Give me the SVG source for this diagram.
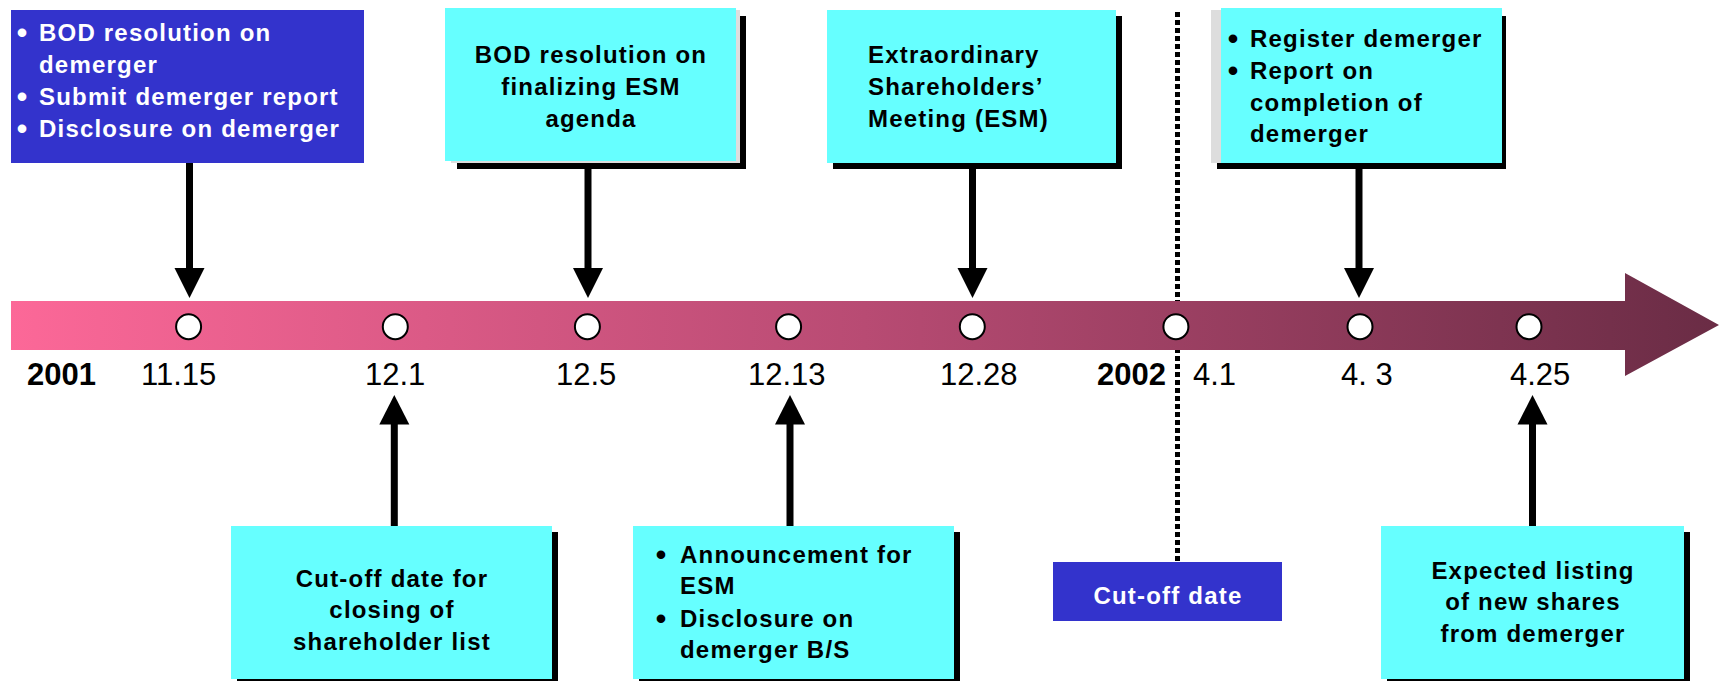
<svg xmlns="http://www.w3.org/2000/svg" width="1720" height="681" viewBox="0 0 1720 681">
  <style>
    .t { font-family: "Liberation Sans", Arial, sans-serif; font-weight: bold; font-size: 24px; letter-spacing: 1.2px; fill: #000; }
    .b { font-family: "Liberation Sans", Arial, sans-serif; font-weight: bold; font-size: 30px; text-anchor: middle; fill: #000; }
    .w { fill: #fff; }
    .c { text-anchor: middle; }
    .date { font-family: "Liberation Sans", Arial, sans-serif; font-size: 31px; fill: #000; }
    .year { font-family: "Liberation Sans", Arial, sans-serif; font-size: 31px; font-weight: bold; fill: #000; }
    .cyan { fill: #66FFFF; }
    .blue { fill: #3333CC; }
    .shadow { fill: #000; }
    .gray { fill: #DDDDDD; }
    .conn { stroke: #000; stroke-width: 7; fill: none; }
    .head { fill: #000; }
    .dot { fill: #fff; stroke: #000; stroke-width: 2; }
  </style>
  <defs>
    <linearGradient id="bar" gradientUnits="userSpaceOnUse" x1="10" y1="0" x2="1720" y2="0">
      <stop offset="0" stop-color="#FC6898"/>
      <stop offset="0.5" stop-color="#B84B73"/>
      <stop offset="1" stop-color="#6A2C45"/>
    </linearGradient>
  </defs>
  <rect width="1720" height="681" fill="#fff"/>

  <!-- dotted cut-off line -->
  <g id="cutoff-line">
    <line x1="1177.5" y1="12" x2="1177.5" y2="561" stroke="#000" stroke-width="5" stroke-dasharray="5 3"/>
  </g>

  <!-- timeline -->
  <g id="timeline">
    <polygon points="11,301 1625,301 1625,273 1719,325 1625,376 1625,350 11,350" fill="url(#bar)"/>
    <ellipse class="dot" cx="188.6" cy="326.7" rx="12.5" ry="12.5"/>
    <ellipse class="dot" cx="395.3" cy="326.7" rx="12.5" ry="12.5"/>
    <ellipse class="dot" cx="587.4" cy="326.7" rx="12.5" ry="12.5"/>
    <ellipse class="dot" cx="788.6" cy="326.7" rx="12.5" ry="12.5"/>
    <ellipse class="dot" cx="972.3" cy="326.7" rx="12.5" ry="12.5"/>
    <ellipse class="dot" cx="1175.9" cy="326.7" rx="12.5" ry="12.5"/>
    <ellipse class="dot" cx="1360" cy="326.7" rx="12.5" ry="12.5"/>
    <ellipse class="dot" cx="1529" cy="326.7" rx="12.5" ry="12.5"/>
    <text class="year" x="27" y="385">2001</text>
    <text class="date" x="141" y="385">11.15</text>
    <text class="date" x="365" y="385">12.1</text>
    <text class="date" x="556" y="385">12.5</text>
    <text class="date" x="748" y="385">12.13</text>
    <text class="date" x="940" y="385">12.28</text>
    <text class="year" x="1097" y="385">2002</text>
    <text class="date" x="1193" y="385">4.1</text>
    <text class="date" x="1341" y="385">4. 3</text>
    <text class="date" x="1510" y="385">4.25</text>
  </g>

  <!-- connectors -->
  <g id="connectors">
    <line class="conn" x1="189.5" y1="163" x2="189.5" y2="270"/>
    <polygon class="head" points="174.5,268 204.5,268 189.5,298"/>
    <line class="conn" x1="588" y1="169" x2="588" y2="270"/>
    <polygon class="head" points="573,268 603,268 588,298"/>
    <line class="conn" x1="972.5" y1="169" x2="972.5" y2="270"/>
    <polygon class="head" points="957.5,268 987.5,268 972.5,298"/>
    <line class="conn" x1="1359" y1="169" x2="1359" y2="270"/>
    <polygon class="head" points="1344,268 1374,268 1359,298"/>
    <line class="conn" x1="394.3" y1="422" x2="394.3" y2="526"/>
    <polygon class="head" points="379.3,424.5 409.3,424.5 394.3,395"/>
    <line class="conn" x1="790" y1="422" x2="790" y2="526"/>
    <polygon class="head" points="775,424.5 805,424.5 790,395"/>
    <line class="conn" x1="1532.5" y1="422" x2="1532.5" y2="526"/>
    <polygon class="head" points="1517.5,424.5 1547.5,424.5 1532.5,395"/>
  </g>

  <!-- top nodes -->
  <g id="node-1115">
    <rect class="blue" x="11" y="10" width="353" height="153"/>
    <text class="b w" x="22" y="43">•</text>
    <text class="t w" x="39" y="41">BOD resolution on</text>
    <text class="t w" x="39" y="73">demerger</text>
    <text class="b w" x="22" y="107">•</text>
    <text class="t w" x="39" y="105">Submit demerger report</text>
    <text class="b w" x="22" y="139">•</text>
    <text class="t w" x="39" y="137">Disclosure on demerger</text>
  </g>

  <g id="node-125">
    <rect class="shadow" x="457" y="16" width="289" height="153"/>
    <rect class="gray" x="451" y="10" width="289" height="153"/>
    <rect class="cyan" x="445" y="8" width="291" height="153"/>
    <text class="t c" x="591" y="63">BOD resolution on</text>
    <text class="t c" x="591" y="95">finalizing ESM</text>
    <text class="t c" x="591" y="127">agenda</text>
  </g>

  <g id="node-1228">
    <rect class="shadow" x="833" y="16" width="289" height="153"/>
    <rect class="cyan" x="827" y="10" width="289" height="153"/>
    <text class="t" x="868" y="63">Extraordinary</text>
    <text class="t" x="868" y="95">Shareholders’</text>
    <text class="t" x="868" y="127">Meeting (ESM)</text>
  </g>

  <g id="node-43">
    <rect class="shadow" x="1217" y="16" width="289" height="153"/>
    <rect class="gray" x="1211" y="10" width="20" height="153"/>
    <rect class="cyan" x="1221" y="8" width="281" height="155"/>
    <text class="b" x="1233" y="49">•</text>
    <text class="t" x="1250" y="47">Register demerger</text>
    <text class="b" x="1233" y="81">•</text>
    <text class="t" x="1250" y="79">Report on</text>
    <text class="t" x="1250" y="111">completion of</text>
    <text class="t" x="1250" y="142">demerger</text>
  </g>

  <!-- bottom nodes -->
  <g id="node-121">
    <rect class="shadow" x="237" y="532" width="321" height="153"/>
    <rect class="cyan" x="231" y="526" width="321" height="153"/>
    <text class="t c" x="392" y="587">Cut-off date for</text>
    <text class="t c" x="392" y="618">closing of</text>
    <text class="t c" x="392" y="650">shareholder list</text>
  </g>

  <g id="node-1213">
    <rect class="shadow" x="639" y="532" width="321" height="153"/>
    <rect class="cyan" x="633" y="526" width="321" height="153"/>
    <text class="b" x="661" y="565">•</text>
    <text class="t" x="680" y="563">Announcement for</text>
    <text class="t" x="680" y="594">ESM</text>
    <text class="b" x="661" y="629">•</text>
    <text class="t" x="680" y="627">Disclosure on</text>
    <text class="t" x="680" y="658">demerger B/S</text>
  </g>

  <g id="node-cutoff">
    <rect class="blue" x="1053" y="562" width="229" height="59"/>
    <text class="t w c" x="1168" y="604">Cut-off date</text>
  </g>

  <g id="node-425">
    <rect class="shadow" x="1387" y="532" width="303" height="153"/>
    <rect class="cyan" x="1381" y="526" width="303" height="153"/>
    <text class="t c" x="1533" y="579">Expected listing</text>
    <text class="t c" x="1533" y="610">of new shares</text>
    <text class="t c" x="1533" y="642">from demerger</text>
  </g>
</svg>
